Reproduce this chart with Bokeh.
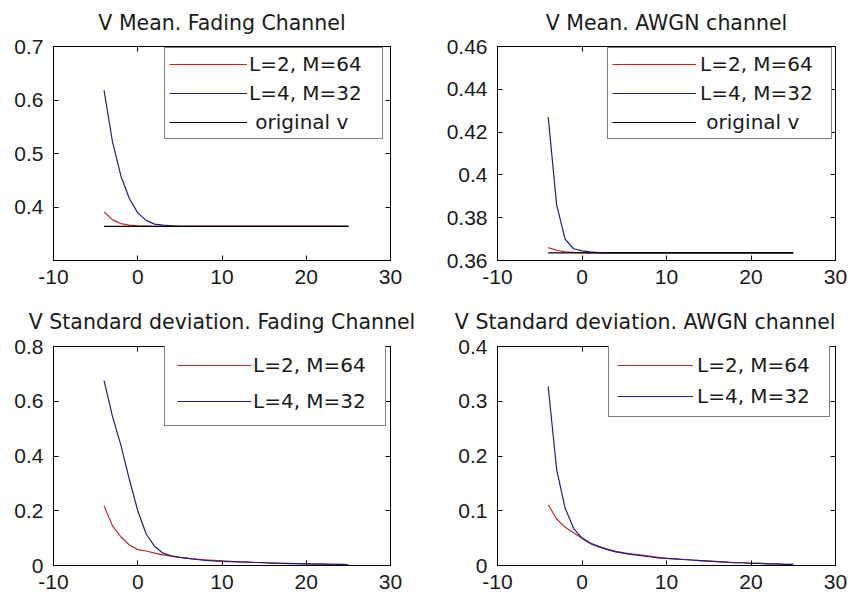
from bokeh.plotting import figure
from bokeh.layouts import gridplot
from bokeh.models import Legend, LegendItem, LinearAxis, FixedTicker, Range1d
from bokeh.embed import file_html
from bokeh.resources import INLINE

# SNR axis (dB)
snr = [-4, -3, -2, -1, 0, 1, 2, 3, 4, 5, 6, 7, 8, 9, 10, 11, 12, 13, 14, 15,
       16, 17, 18, 19, 20, 21, 22, 23, 24, 25]

# original v (constant reference)
orig_x = [-4, 25]
orig_v = [0.3636, 0.3636]

# V mean, fading channel
mean_fad_L2 = [0.391, 0.376, 0.369, 0.366, 0.365, 0.3645, 0.364, 0.3638, 0.3637, 0.3636,
               0.3636, 0.3636, 0.3636, 0.3636, 0.3636, 0.3636, 0.3636, 0.3636, 0.3636, 0.3636,
               0.3636, 0.3636, 0.3636, 0.3636, 0.3636, 0.3636, 0.3636, 0.3636, 0.3636, 0.3636]
mean_fad_L4 = [0.618, 0.522, 0.458, 0.416, 0.389, 0.375, 0.368, 0.366, 0.365, 0.364,
               0.3637, 0.3636, 0.3636, 0.3636, 0.3636, 0.3636, 0.3636, 0.3636, 0.3636, 0.3636,
               0.3636, 0.3636, 0.3636, 0.3636, 0.3636, 0.3636, 0.3636, 0.3636, 0.3636, 0.3636]

# V mean, AWGN channel
mean_awgn_L2 = [0.366, 0.3648, 0.364, 0.3638, 0.3637, 0.3636, 0.3636, 0.3636, 0.3636, 0.3636,
                0.3636, 0.3636, 0.3636, 0.3636, 0.3636, 0.3636, 0.3636, 0.3636, 0.3636, 0.3636,
                0.3636, 0.3636, 0.3636, 0.3636, 0.3636, 0.3636, 0.3636, 0.3636, 0.3636, 0.3636]
mean_awgn_L4 = [0.427, 0.386, 0.370, 0.3655, 0.3645, 0.364, 0.3637, 0.3636, 0.3636, 0.3636,
                0.3636, 0.3636, 0.3636, 0.3636, 0.3636, 0.3636, 0.3636, 0.3636, 0.3636, 0.3636,
                0.3636, 0.3636, 0.3636, 0.3636, 0.3636, 0.3636, 0.3636, 0.3636, 0.3636, 0.3636]

# V standard deviation, fading channel
std_fad_L2 = [0.217, 0.145, 0.105, 0.075, 0.058, 0.053, 0.045, 0.039, 0.034, 0.030,
              0.026, 0.023, 0.021, 0.019, 0.017, 0.015, 0.013, 0.012, 0.011, 0.010,
              0.009, 0.008, 0.008, 0.007, 0.006, 0.006, 0.005, 0.004, 0.004, 0.003]
std_fad_L4 = [0.675, 0.545, 0.440, 0.315, 0.200, 0.115, 0.070, 0.045, 0.035, 0.030,
              0.026, 0.022, 0.019, 0.017, 0.015, 0.014, 0.013, 0.012, 0.011, 0.010,
              0.009, 0.008, 0.007, 0.007, 0.006, 0.005, 0.005, 0.004, 0.004, 0.003]

# V standard deviation, AWGN channel
std_awgn_L2 = [0.111, 0.085, 0.070, 0.060, 0.050, 0.041, 0.035, 0.030, 0.026, 0.023,
               0.021, 0.019, 0.017, 0.015, 0.013, 0.012, 0.011, 0.010, 0.009, 0.008,
               0.007, 0.006, 0.005, 0.005, 0.004, 0.004, 0.003, 0.003, 0.002, 0.002]
std_awgn_L4 = [0.327, 0.175, 0.105, 0.068, 0.050, 0.040, 0.034, 0.029, 0.025, 0.022,
               0.020, 0.018, 0.016, 0.014, 0.013, 0.012, 0.011, 0.010, 0.009, 0.008,
               0.007, 0.006, 0.005, 0.005, 0.004, 0.004, 0.003, 0.003, 0.002, 0.002]

x_ticks = [-10, 0, 10, 20, 30]
x_labels = ["-10", "0", "10", "20", "30"]
yt_mean_fad = [0.4, 0.5, 0.6, 0.7]
yl_mean_fad = ["0.4", "0.5", "0.6", "0.7"]
yt_mean_awgn = [0.36, 0.38, 0.40, 0.42, 0.44, 0.46]
yl_mean_awgn = ["0.36", "0.38", "0.4", "0.42", "0.44", "0.46"]
yt_std_fad = [0, 0.2, 0.4, 0.6, 0.8]
yl_std_fad = ["0", "0.2", "0.4", "0.6", "0.8"]
yt_std_awgn = [0, 0.1, 0.2, 0.3, 0.4]
yl_std_awgn = ["0", "0.1", "0.2", "0.3", "0.4"]

labels = ["L=2, M=64", "L=4, M=32", "\u00a0original v"]
titles = ["V Mean. Fading Channel", "V Mean. AWGN channel",
          "V Standard deviation. Fading Channel", "V Standard deviation. AWGN channel"]

RED = "#c22a2a"
BLUE = "#1f1f85"
TXT = "#1a1a1a"


def make(title, w, h, borders, yrange, yt, yl, red, blue, show_orig, leg,
         title_align="center", title_standoff=20):
    left, right, top, bottom = borders
    p = figure(width=w, height=h, output_backend="svg", toolbar_location=None,
               x_range=Range1d(-10, 30), y_range=Range1d(*yrange),
               min_border_left=left, min_border_right=right,
               min_border_top=top, min_border_bottom=bottom)
    p.grid.visible = False
    p.background_fill_color = "white"
    p.border_fill_color = "white"
    p.outline_line_color = "black"
    p.outline_line_width = 1

    p.title.text = title
    p.title.align = title_align
    p.title.vertical_align = "top"
    p.title.text_font = "DejaVu Sans"
    p.title.text_font_size = "20.5px"
    p.title.text_font_style = "normal"
    p.title.text_color = TXT
    p.title.standoff = title_standoff

    for ax, ticks, labs, so in ((p.xaxis[0], x_ticks, x_labels, 9), (p.yaxis[0], yt, yl, 10)):
        ax.ticker = FixedTicker(ticks=ticks)
        ax.major_label_overrides = {t: s for t, s in zip(ticks, labs)}
        ax.major_label_text_font = "Liberation Sans"
        ax.major_label_text_font_size = "21px"
        ax.major_label_text_color = TXT
        ax.major_tick_in = 5
        ax.major_tick_out = 0
        ax.minor_tick_line_color = None
        ax.axis_line_color = "black"
        ax.major_tick_line_color = "black"
        ax.major_label_standoff = so

    for loc, ticks in (("right", yt), ("above", x_ticks)):
        a = LinearAxis(ticker=FixedTicker(ticks=ticks), major_label_text_font_size="0px",
                       major_label_text_alpha=0, major_tick_in=5, major_tick_out=0,
                       minor_tick_line_color=None, axis_line_color="black",
                       major_label_standoff=0)
        p.add_layout(a, loc)

    r1 = p.line(snr, red, color=RED, line_width=1.2)
    r2 = p.line(snr, blue, color=BLUE, line_width=1.2)
    items = [LegendItem(label=labels[0], renderers=[r1]),
             LegendItem(label=labels[1], renderers=[r2])]
    if show_orig:
        r3 = p.line(orig_x, orig_v, color="black", line_width=1.2)
        items.append(LegendItem(label=labels[2], renderers=[r3]))

    loc, pad, sp, gw, st, lw = leg
    lg = Legend(items=items, location=loc, margin=0, padding=pad, spacing=sp,
                glyph_width=gw, label_standoff=st, label_width=lw,
                border_line_color="black", border_line_width=1.3,
                background_fill_color="white", background_fill_alpha=1,
                label_text_font="DejaVu Sans", label_text_font_size="20px",
                label_text_color=TXT)
    p.add_layout(lg)
    return p


p1 = make(titles[0], 430, 298, (53, 40, 42, 38), (0.3, 0.7), yt_mean_fad, yl_mean_fad,
          mean_fad_L2, mean_fad_L4, True, ((111, 121), 4, 5, 78, 2, 129))
p2 = make(titles[1], 431, 298, (67, 26, 42, 38), (0.36, 0.46), yt_mean_awgn, yl_mean_awgn,
          mean_awgn_L2, mean_awgn_L4, True, ((110, 121), 4, 5, 84, 4, 127))
p3 = make(titles[2], 430, 299, (53, 40, 47, 32), (0, 0.8), yt_std_fad, yl_std_fad,
          std_fad_L2, std_fad_L4, False, ((111, 139), 12, 12, 74, 2, 120),
          title_standoff=22)
p4 = make(titles[3], 431, 299, (67, 26, 47, 32), (0, 0.4), yt_std_awgn, yl_std_awgn,
          std_awgn_L2, std_awgn_L4, False, ((111, 148), 8, 7, 76, 4, 124),
          title_align="right", title_standoff=22)

grid = gridplot([[p1, p2], [p3, p4]], toolbar_location=None)

open("out.html", "w").write(file_html(grid, INLINE))
